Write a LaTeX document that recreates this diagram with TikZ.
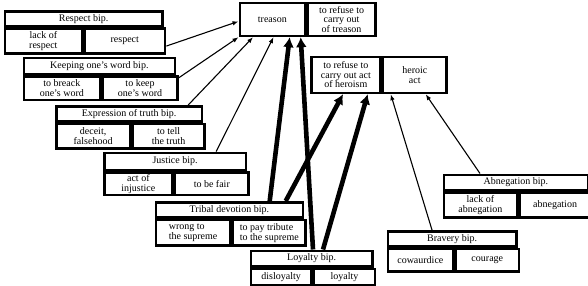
\documentclass[tikz,border=0pt]{standalone}
\usepackage{fontspec}
\setmainfont{Liberation Serif}
\usepackage{tikz}
\usetikzlibrary{positioning, arrows.meta}

\begin{document}
\begin{tikzpicture}[
    x=1pt, y=-1pt,
    bip/.style={draw=black, line width=2.7pt, inner sep=0pt, anchor=north west, align=center, font=\fontsize{10}{9.6}\selectfont},
    thinarrow/.style={-{Latex[length=6pt, width=4.5pt]}, line width=1.1pt},
    thickarrow/.style={-{Latex[length=10pt, width=11pt]}, line width=4.6pt}
]
\useasboundingbox (0,0) rectangle (588,285);

% Top targets
\node[bip, minimum width=65pt, minimum height=33pt] (tr1) at (238.5,1.5) {treason};
\node[bip, minimum width=68pt, minimum height=33pt] (tr2) at (tr1.north east) {to refuse to\\carry out\\of treason};

\node[bip, minimum width=69pt, minimum height=36pt] (hr1) at (310,55.5) {to refuse to\\carry out act\\of heroism};
\node[bip, minimum width=63.5pt, minimum height=36pt] (hr2) at (hr1.north east) {heroic\\act};

% Respect
\node[bip, minimum width=157.5pt, minimum height=14.5pt] (rsT) at (3.5,10) {Respect bip.};
\node[bip, minimum width=77pt, minimum height=25pt] (rsL) at (rsT.south west) {lack of\\respect};
\node[bip, minimum width=80.5pt, minimum height=25pt] (rsR) at (rsL.north east) {respect};

% Keeping one's word
\node[bip, minimum width=151pt, minimum height=16pt] (kwT) at (22.5,56.5) {Keeping one’s word bip.};
\node[bip, minimum width=76pt, minimum height=23.5pt] (kwL) at (kwT.south west) {to breack\\one’s word};
\node[bip, minimum width=75pt, minimum height=23.5pt] (kwR) at (kwL.north east) {to keep\\one’s word};

% Expression of truth
\node[bip, minimum width=145.5pt, minimum height=15pt] (exT) at (55,105) {Expression of truth bip.};
\node[bip, minimum width=73.5pt, minimum height=24.5pt] (exL) at (exT.south west) {deceit,\\falsehood};
\node[bip, minimum width=72pt, minimum height=24.5pt] (exR) at (exL.north east) {to tell\\the truth};

% Justice
\node[bip, minimum width=141.5pt, minimum height=17pt] (jsT) at (103,151.5) {Justice bip.};
\node[bip, minimum width=68pt, minimum height=22.5pt] (jsL) at (jsT.south west) {act of\\injustice};
\node[bip, minimum width=73.5pt, minimum height=22.5pt] (jsR) at (jsL.north east) {to be fair};

% Tribal devotion
\node[bip, minimum width=147pt, minimum height=15pt] (tdT) at (154.5,201) {Tribal devotion bip.};
\node[bip, minimum width=74.5pt, minimum height=25.5pt, align=left] (tdL) at (tdT.south west) {wrong to\\the supreme};
\node[bip, minimum width=72.5pt, minimum height=25.5pt, align=left] (tdR) at (tdL.north east) {to pay tribute\\to the supreme};

% Loyalty
\node[bip, minimum width=121.5pt, minimum height=15.5pt] (lyT) at (249.5,249.5) {Loyalty bip.};
\node[bip, minimum width=60.5pt, minimum height=16.5pt] (lyL) at (lyT.south west) {disloyalty};
\node[bip, minimum width=61pt, minimum height=16.5pt] (lyR) at (lyL.north east) {loyalty};

% Bravery
\node[bip, minimum width=128.5pt, minimum height=15pt] (bvT) at (386.5,230) {Bravery bip.};
\node[bip, minimum width=65pt, minimum height=22.5pt] (bvL) at (bvT.south west) {cowaurdice};
\node[bip, minimum width=63.5pt, minimum height=22.5pt] (bvR) at (bvL.north east) {courage};

% Abnegation
\node[bip, minimum width=144pt, minimum height=15pt] (abT) at (442.5,173.5) {Abnegation bip.};
\node[bip, minimum width=73pt, minimum height=25pt] (abL) at (abT.south west) {lack of\\abnegation};
\node[bip, minimum width=71pt, minimum height=25pt] (abR) at (abL.north east) {abnegation};

% Thin arrows to treason
\draw[thinarrow] ([yshift=-5pt]rsR.east) -- ([yshift=-2pt]tr1.west);
\draw[thinarrow] ([yshift=-2.5pt]kwR.north east) -- (tr1.south west);
\draw[thinarrow] ([xshift=-15pt]exT.north east) -- ([xshift=14.5pt]tr1.south west);
\draw[thinarrow] ([xshift=-31pt]jsT.north east) -- ([xshift=35pt]tr1.south west);

% Thick arrows
\draw[thickarrow] ([xshift=-34.5pt]tdT.north east) -- ([xshift=-16.5pt]tr1.south east);
\draw[thickarrow] ([xshift=-18.5pt]tdT.north east) -- ([xshift=33pt]hr1.south west);
\draw[thickarrow] ([xshift=63.5pt]lyT.north west) -- ([xshift=-5.5pt]tr1.south east);
\draw[thickarrow] ([xshift=73.5pt]lyT.north west) -- ([xshift=-14pt]hr1.south east);

% Thin arrows to heroic act
\draw[thinarrow] ([xshift=45.5pt]bvT.north west) -- ([xshift=9pt]hr2.south west);
\draw[thinarrow] ([xshift=37.5pt]abT.north west) -- ([xshift=44pt]hr2.south west);

\end{tikzpicture}
\end{document}
